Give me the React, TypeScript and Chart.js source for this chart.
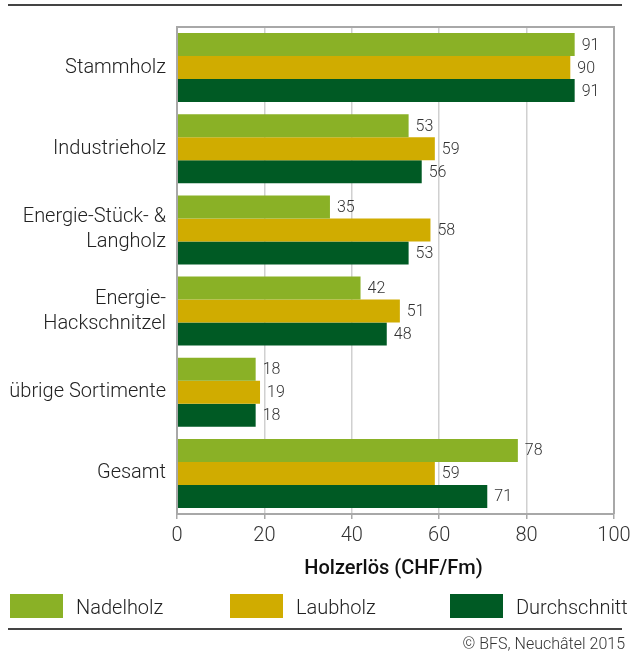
import React, { useEffect, useRef } from "react";
import { Chart, registerables } from "chart.js";

Chart.register(...registerables);

const categories: (string | string[])[] = [
  "Stammholz",
  "Industrieholz",
  ["Energie-Stück- &", "Langholz"],
  ["Energie-", "Hackschnitzel"],
  "übrige Sortimente",
  "Gesamt",
];
const nadelholz = [91, 53, 35, 42, 18, 78];
const laubholz = [90, 59, 58, 51, 19, 59];
const durchschnitt = [91, 56, 53, 48, 18, 71];
const seriesNames = ["Nadelholz", "Laubholz", "Durchschnitt"];
const seriesColors = ["#8AB126", "#D0AC00", "#005A24"];
const xTicks = [0, 20, 40, 60, 80, 100];
const axisTitle = "Holzerlös (CHF/Fm)";
const footer = "© BFS, Neuchâtel 2015";

const FONT = "Roboto";

const decorPlugin = {
  id: "decor",
  afterDatasetsDraw(chart: any) {
    const ctx = chart.ctx;
    ctx.save();
    ctx.font = `300 16px ${FONT}`;
    ctx.fillStyle = "#333";
    ctx.textBaseline = "middle";
    ctx.textAlign = "left";
    chart.data.datasets.forEach((ds: any, i: number) => {
      const meta = chart.getDatasetMeta(i);
      meta.data.forEach((bar: any, j: number) => {
        ctx.fillText(String(ds.data[j]), bar.x + 7, bar.y + 1);
      });
    });
    ctx.restore();
  },
  afterDraw(chart: any) {
    const ctx = chart.ctx;
    const area = chart.chartArea;
    ctx.save();
    // frame
    ctx.strokeStyle = "#A8A8A8";
    ctx.lineWidth = 2;
    ctx.beginPath();
    ctx.moveTo(area.left, area.bottom);
    ctx.lineTo(area.left, area.top);
    ctx.lineTo(area.right, area.top);
    ctx.lineTo(area.right, area.bottom);
    ctx.stroke();
    // top and bottom rules
    ctx.strokeStyle = "#444";
    ctx.lineWidth = 2;
    ctx.beginPath();
    ctx.moveTo(8, 5);
    ctx.lineTo(622, 5);
    ctx.stroke();
    ctx.beginPath();
    ctx.moveTo(8, 629);
    ctx.lineTo(622, 629);
    ctx.stroke();
    // axis title
    ctx.fillStyle = "#111";
    ctx.font = `500 20px ${FONT}`;
    ctx.textAlign = "center";
    ctx.textBaseline = "alphabetic";
    ctx.fillText(axisTitle, (area.left + area.right) / 2 - 2, 574);
    // legend
    const legendX = [10, 230, 450];
    ctx.font = `300 20px ${FONT}`;
    ctx.textAlign = "left";
    seriesNames.forEach((name, i) => {
      ctx.fillStyle = seriesColors[i];
      ctx.fillRect(legendX[i], 594, 53, 24);
      ctx.fillStyle = "#222";
      ctx.fillText(name, legendX[i] + 66, 614);
    });
    // footer
    ctx.font = `300 16px ${FONT}`;
    ctx.textAlign = "right";
    ctx.fillStyle = "#333";
    ctx.fillText(footer, 625, 649);
    ctx.restore();
  },
};

export default function App() {
  const ref = useRef<HTMLCanvasElement>(null);
  useEffect(() => {
    if (!ref.current) return;
    const chart = new Chart(ref.current, {
      type: "bar",
      data: {
        labels: categories as any,
        datasets: [
          { label: seriesNames[0], data: nadelholz, backgroundColor: seriesColors[0] },
          { label: seriesNames[1], data: laubholz, backgroundColor: seriesColors[1] },
          { label: seriesNames[2], data: durchschnitt, backgroundColor: seriesColors[2] },
        ],
      },
      options: {
        indexAxis: "y",
        responsive: false,
        animation: false,
        events: [],
        layout: { padding: { top: 27, right: 16, left: 0, bottom: 0 } },
        datasets: { bar: { categoryPercentage: 0.85, barPercentage: 1 } },
        plugins: {
          legend: { display: false },
          tooltip: { enabled: false },
          title: { display: false },
        },
        scales: {
          x: {
            min: 0,
            max: 100,
            afterBuildTicks(scale: any) {
              scale.ticks = xTicks.map((v) => ({ value: v }));
            },
            afterFit(scale: any) {
              scale.height = 654 - 514;
              scale.paddingLeft = 0;
              scale.paddingRight = 0;
            },
            grid: {
              color: "#D0D0D0",
              lineWidth: 1.5,
              drawTicks: true,
              tickLength: 5,
              tickColor: "#A8A8A8",
            },
            border: { color: "#A8A8A8", width: 2 },
            ticks: {
              padding: 5,
              color: "#333",
              font: { family: FONT, size: 20, weight: "300" },
            },
          },
          y: {
            afterFit(scale: any) {
              scale.width = 177;
              scale.paddingTop = 0;
              scale.paddingBottom = 0;
            },
            grid: { display: false, drawTicks: false },
            border: { color: "#A8A8A8", width: 2 },
            ticks: {
              padding: 11,
              color: "#222",
              font: { family: FONT, size: 20, weight: "300", lineHeight: 1.25 },
            },
          },
        },
      },
      plugins: [decorPlugin],
    });
    return () => chart.destroy();
  }, []);
  return (
    <div style={{ position: "absolute", left: 0, top: 0, width: 630, height: 654, background: "#fff" }}>
      <canvas ref={ref} width={630} height={654} style={{ width: 630, height: 654, display: "block" }} />
    </div>
  );
}
